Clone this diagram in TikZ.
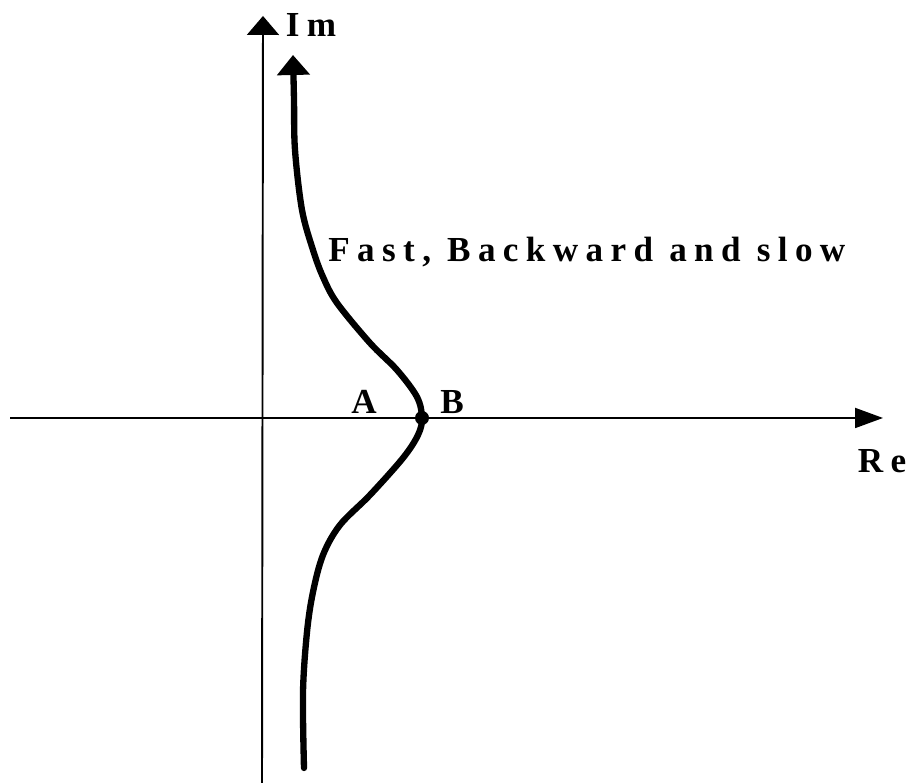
\documentclass[tikz,border=0pt]{standalone}
\usepackage{fontspec}
\setmainfont{Liberation Serif}
\usetikzlibrary{arrows.meta}

\begin{document}
\begin{tikzpicture}[x=0.02cm, y=0.02cm,
    axis/.style={line width=1.1pt},
    locus/.style={line width=3.6pt, line cap=round},
    lbl/.style={font=\fontsize{20}{24}\selectfont\bfseries\addfontfeatures{LetterSpace=21}, inner sep=0pt}]
  \useasboundingbox (0,0) rectangle (914,783);

  % axes
  \coordinate (west) at (10,365);
  \coordinate (east) at (883,365);
  \coordinate (south) at (262,0);
  \coordinate (north) at (263,767);
  \draw[axis, -{Triangle[length=0.56cm, width=0.4cm]}] (west) -- (east);
  \draw[axis, -{Triangle[length=0.38cm, width=0.64cm]}] (south) -- (north);
  \node[lbl] (im) at (311,758) {Im};
  \node[lbl] (re) at (882,322) {Re};

  % root locus
  \draw[locus, -{Triangle[length=0.4cm, width=0.64cm]}] plot[smooth, tension=0.55] coordinates {
    (304,15) (303,91) (307,151) (313,191) (323,228) (340,258) (370,288)
    (403,325) (418,348) (422,365) (417,386) (397,413) (370,440) (337,480)
    (323,506) (313,533) (302,573) (295,633) (294,683) (293,728)};
  \fill (422,365) circle (7); % point B
  \node[lbl] (a) at (364,381) {A};
  \node[lbl] (b) at (452,381) {B};
  \node[lbl, anchor=base west] (name) at (328,521) {Fast, Backward and slow};
\end{tikzpicture}
\end{document}
